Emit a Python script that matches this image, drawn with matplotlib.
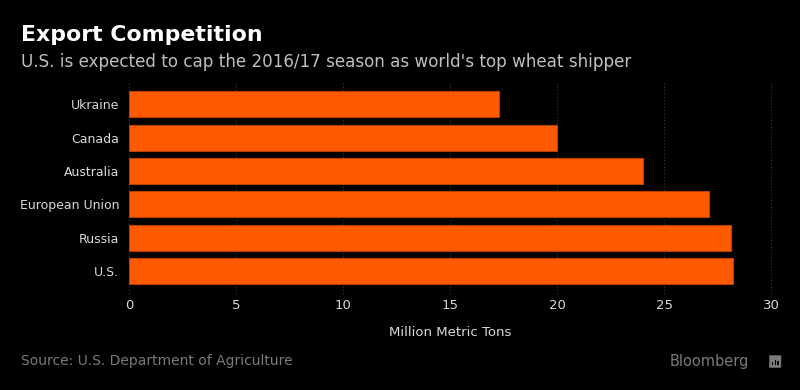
import matplotlib
matplotlib.use("Agg")
import matplotlib.pyplot as plt
import matplotlib.patches as patches
import numpy as np

COUNTRIES = ["Ukraine", "Canada", "Australia", "European Union", "Russia", "U.S."]
EXPORTS = [17.3, 20.0, 24.0, 27.1, 28.1, 28.2]
X_TICKS = [0, 5, 10, 15, 20, 25, 30]

BG = "#000000"
BAR_COLOR = "#FF5A00"
BAR_EDGE = "#B84000"
TEXT_LIGHT = "#D9D9D9"
TEXT_DIM = "#7A7A7A"
GRID_COLOR = "#3A3A3A"

plt.rcParams["font.family"] = ["DejaVu Sans"]


def main():
    fig = plt.figure(figsize=(8.0, 3.9), dpi=100, facecolor=BG)
    ax = fig.add_axes([0.16125, 0.262, 0.80275, 0.513])
    ax.set_facecolor(BG)

    y = np.arange(len(COUNTRIES))
    ax.barh(y, EXPORTS, height=0.78, color=BAR_COLOR, edgecolor=BAR_EDGE,
            linewidth=0.8, zorder=3)

    ax.set_xlim(0, 30)
    ax.set_ylim(len(COUNTRIES) - 0.5, -0.5)
    ax.set_yticks(y)
    ax.set_yticklabels(COUNTRIES)
    ax.set_xticks(X_TICKS)
    ax.set_xticklabels([str(t) for t in X_TICKS])
    ax.tick_params(axis="both", length=0, colors=TEXT_LIGHT, labelsize=9.5)
    ax.tick_params(axis="y", pad=7, labelsize=9.0)
    ax.tick_params(axis="x", pad=8)

    for t in X_TICKS:
        ax.axvline(t, ymin=-0.03, ymax=1.03, color=GRID_COLOR, linewidth=0.8,
                   linestyle=(0, (1, 2)), zorder=1, clip_on=False)

    for side in ax.spines.values():
        side.set_visible(False)

    ax.set_xlabel("Million Metric Tons", color=TEXT_LIGHT, fontsize=9.5, labelpad=10)

    fig.text(0.026, 0.91, "Export Competition", color="white", fontsize=15.8,
             fontweight="bold", ha="left", va="center")
    fig.text(0.026, 0.84,
             "U.S. is expected to cap the 2016/17 season as world's top wheat shipper",
             color="#BFBFBF", fontsize=12.1, ha="left", va="center")
    fig.text(0.026, 0.074, "Source: U.S. Department of Agriculture", color=TEXT_DIM,
             fontsize=10, ha="left", va="center")
    fig.text(0.936, 0.074, "Bloomberg", color=TEXT_DIM, fontsize=10.5,
             ha="right", va="center")

    # small logo mark next to "Bloomberg"
    fig.patches.append(patches.FancyBboxPatch(
        (0.9625, 0.058), 0.013, 0.03, boxstyle="round,pad=0.001",
        transform=fig.transFigure, facecolor=TEXT_DIM, edgecolor="none"))
    for i, h in enumerate([0.008, 0.014, 0.010]):
        fig.patches.append(patches.Rectangle(
            (0.9650 + i * 0.0033, 0.064), 0.0018, h,
            transform=fig.transFigure, facecolor=BG, edgecolor="none"))

    fig.savefig("out.png", dpi=100, facecolor=BG)


if __name__ == "__main__":
    main()
